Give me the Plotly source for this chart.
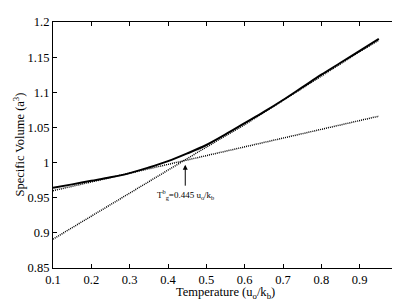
import plotly.graph_objects as go

# Simulation data (solid)
temp = [0.1, 0.15, 0.2, 0.25, 0.3, 0.35, 0.4, 0.45, 0.5, 0.55, 0.6, 0.65, 0.7, 0.75, 0.8, 0.85, 0.9, 0.95]
volume = [0.964, 0.969, 0.974, 0.979, 0.985, 0.993, 1.002, 1.013, 1.025, 1.040, 1.056, 1.072,
          1.089, 1.107, 1.125, 1.142, 1.159, 1.176]

# High-temperature (liquid) fit, dotted
liq_t = [0.1, 0.2, 0.3, 0.445, 0.5, 0.6, 0.7, 0.8, 0.9, 0.95]
liq_v = [0.891, 0.924, 0.957, 1.004, 1.022, 1.054, 1.088, 1.123, 1.158, 1.174]

# Low-temperature (glass) fit, dotted
gl_t = [0.1, 0.95]
gl_v = [0.960, 1.066]

x_ticks = [0.1, 0.2, 0.3, 0.4, 0.5, 0.6, 0.7, 0.8, 0.9, 1.0]
x_labels = ["0.1", "0.2", "0.3", "0.4", "0.5", "0.6", "0.7", "0.8", "0.9", "1"]
y_ticks = [0.85, 0.9, 0.95, 1.0, 1.05, 1.1, 1.15, 1.2]
y_labels = ["0.85", "0.9", "0.95", "1", "1.05", "1.1", "1.15", "1.2"]

tg = 0.445
tg_v = 1.003

font = "Liberation Serif, Times New Roman, serif"

fig = go.Figure()
fig.add_trace(go.Scatter(x=liq_t, y=liq_v, mode="lines",
                         line=dict(color="black", width=1.5, dash="1px,1px")))
fig.add_trace(go.Scatter(x=gl_t, y=gl_v, mode="lines",
                         line=dict(color="black", width=1.5, dash="1px,1px")))
fig.add_trace(go.Scatter(x=temp, y=volume, mode="lines", line_shape="spline",
                         line=dict(color="black", width=2)))

fig.add_annotation(x=tg, y=tg_v - 0.006, xref="x", yref="y",
                   text="T<sup>b</sup><sub>g</sub>=0.445 u<sub>o</sub>/k<sub>b</sub>",
                   showarrow=True, arrowhead=2, arrowsize=1, arrowwidth=1, arrowcolor="black",
                   ax=0, ay=21, yanchor="top",
                   font=dict(family=font, size=9, color="black"))

# axis titles as annotations
fig.add_annotation(x=0.5, y=-0.103, xref="paper", yref="paper", showarrow=False,
                   text="Temperature (u<sub>o</sub>/k<sub>b</sub>)", yanchor="middle", xanchor="center",
                   font=dict(family=font, size=12.5, color="black"))
fig.add_annotation(x=-0.1, y=0.5, xref="paper", yref="paper", showarrow=False, textangle=-90,
                   text="Specific Volume (a<sup>3</sup>)", yanchor="middle", xanchor="center",
                   font=dict(family=font, size=12.5, color="black"))

axis_common = dict(showgrid=False, zeroline=False, showline=True, linecolor="black", linewidth=1.2,
                   mirror="allticks", ticks="inside", ticklen=4, tickcolor="black",
                   tickfont=dict(family=font, size=12.5, color="black"))

fig.update_xaxes(range=[0.1, 1.0], tickvals=x_ticks, ticktext=x_labels, **axis_common)
fig.update_yaxes(range=[0.85, 1.2], tickvals=y_ticks, ticktext=y_labels, **axis_common)

fig.update_layout(width=400, height=300, showlegend=False,
                  margin=dict(l=45, r=8, t=7, b=40),
                  plot_bgcolor="white", paper_bgcolor="white")

fig.write_html("out.html")
